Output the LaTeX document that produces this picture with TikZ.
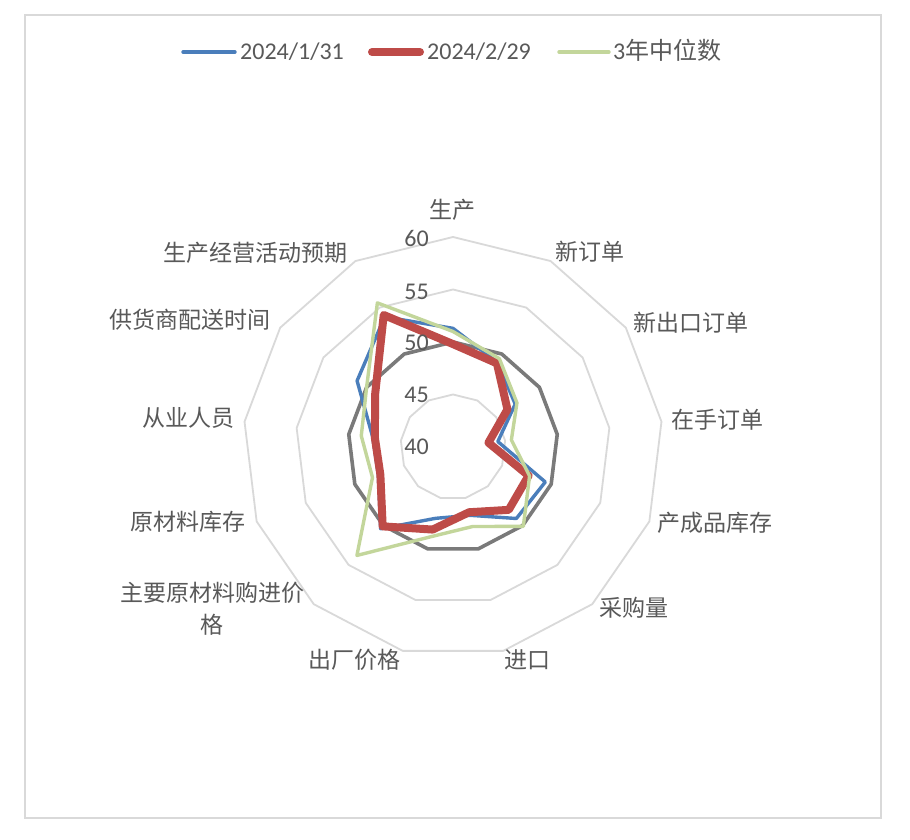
\documentclass[tikz,border=0pt]{standalone}
\usepackage{fontspec}
\setmainfont{Carlito}
\newfontfamily\cjk{Noto Sans CJK SC}
\usetikzlibrary{positioning}

\definecolor{ringgray}{HTML}{D9D9D9}
\definecolor{midgray}{HTML}{7A7A7A}
\definecolor{textgray}{HTML}{595959}
\definecolor{serblue}{HTML}{4A7EBB}
\definecolor{serred}{HTML}{BE4B48}
\definecolor{sergreen}{HTML}{C3D69B}

\begin{document}
\begin{tikzpicture}[x=1pt,y=1pt,
  ringline/.style={draw=ringgray, line width=1.8pt, line join=round},
  midline/.style={draw=midgray, line width=3.6pt, line join=round},
  serA/.style={draw=serblue, line width=3.4pt, line join=round, line cap=round},
  serB/.style={draw=serred, line width=8pt, line join=round, line cap=round},
  serC/.style={draw=sergreen, line width=3.4pt, line join=round, line cap=round},
  axislabel/.style={text=textgray, font=\cjk\fontsize{23}{26}\selectfont, inner sep=0pt},
  ticklabel/.style={text=textgray, font=\fontsize{24}{26}\selectfont, inner sep=0pt, anchor=east},
  legendtext/.style={text=textgray, font=\fontsize{24}{26}\selectfont, inner sep=0pt, anchor=base west}]

  \useasboundingbox (0,0) rectangle (910,840);
  \fill[white] (0,0) rectangle (910,840);
  \draw[draw=ringgray, line width=1.6pt] (25,22) rectangle (881,825);

  % rings and the 50 line
  \begin{scope}[shift={(453,393)}]
    \foreach \r in {45,50,55,60} {
      \draw[ringline] (90:{(\r-40)*10.5})
        \foreach \i in {1,...,12} { -- ({90-\i*360/13}:{(\r-40)*10.5}) } -- cycle;
    }
    \draw[midline] (90:105)
      \foreach \i in {1,...,12} { -- ({90-\i*360/13}:105) } -- cycle;

    % series points
    \foreach \v [count=\i from 0] in {51.3,49.1,47.2,44.3,49.4,49.1,46.7,47.0,50.4,47.6,47.7,51.1,54.0}
      \coordinate (a\i) at ({90-\i*360/13}:{(\v-40)*10.5});
    \foreach \v [count=\i from 0] in {49.8,49.0,46.3,43.4,47.7,48.0,46.4,48.1,50.1,47.4,47.5,49.0,54.2}
      \coordinate (b\i) at ({90-\i*360/13}:{(\v-40)*10.5});
    \foreach \v [count=\i from 0] in {51.0,49.5,47.4,45.6,47.8,50.1,47.8,48.8,53.8,48.2,48.8,50.0,55.5}
      \coordinate (c\i) at ({90-\i*360/13}:{(\v-40)*10.5});

    \draw[serA] (a0) \foreach \i in {1,...,12} { -- (a\i) } -- cycle;
    \draw[serB] (b0) \foreach \i in {1,...,12} { -- (b\i) } -- cycle;
    \draw[serC] (c0) \foreach \i in {1,...,12} { -- (c\i) } -- cycle;
  \end{scope}

  % value labels
  \foreach \t/\y in {60/602,55/548,50/497,45/445,40/393} {
    \node[ticklabel] (tick\t) at (429,\y) {\t};
  }

  % axis labels
  \node[axislabel] (lprod) at (452,630) {生产};
  \node[axislabel] (lneword) at (590,588) {新订单};
  \node[axislabel] (lexport) at (691,517) {新出口订单};
  \node[axislabel] (lbacklog) at (717,420) {在手订单};
  \node[axislabel] (lfinstock) at (715,317) {产成品库存};
  \node[axislabel] (lpurch) at (634,232) {采购量};
  \node[axislabel] (limport) at (527,180) {进口};
  \node[axislabel] (lexprice) at (354,180) {出厂价格};
  \node[axislabel] (linprice) at (212,247) {主要原材料购进价};
  \node[axislabel] (linprice2) at (212,215) {格};
  \node[axislabel] (lrawstock) at (188,318) {原材料库存};
  \node[axislabel] (lstaff) at (188,422) {从业人员};
  \node[axislabel] (ldeliv) at (190,520) {供货商配送时间};
  \node[axislabel] (lexpect) at (255,587) {生产经营活动预期};

  % legend
  \coordinate (legAs) at (183,788);
  \coordinate (legAe) at (235,788);
  \draw[serA] (legAs) -- (legAe);
  \node[legendtext] (legA) at (240,780) {2024/1/31};
  \coordinate (legBs) at (372,788);
  \coordinate (legBe) at (420,788);
  \draw[serB] (legBs) -- (legBe);
  \node[legendtext] (legB) at (427,780) {2024/2/29};
  \coordinate (legCs) at (559,788);
  \coordinate (legCe) at (609,788);
  \draw[serC] (legCs) -- (legCe);
  \node[legendtext] (legC) at (613,780) {3\cjk 年中位数};
\end{tikzpicture}
\end{document}
